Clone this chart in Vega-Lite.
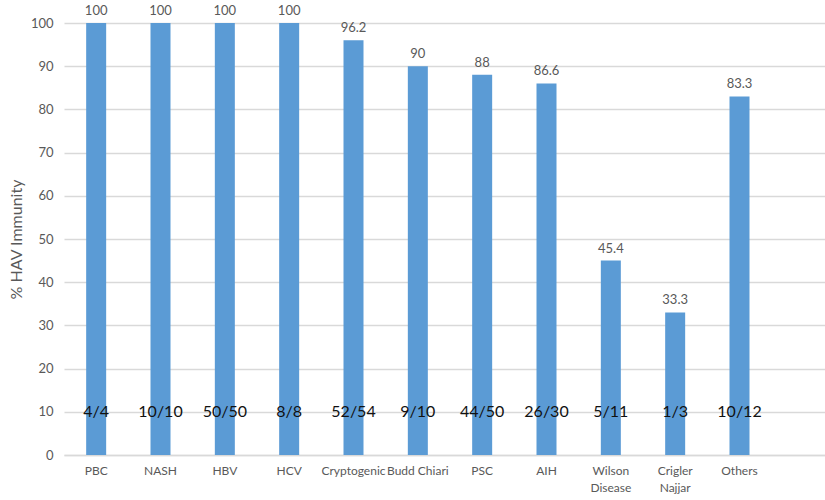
{
  "$schema": "https://vega.github.io/schema/vega-lite/v6.json",
  "autosize": {"type": "none"},
  "padding": {"left": 64, "top": 23, "right": 0, "bottom": 45},
  "width": 772,
  "height": 432,
  "background": "white",
  "config": {
    "view": {"stroke": null},
    "font": "Lato"
  },
  "data": {
    "values": [
      {"disease": "PBC", "value": 100, "label": "100", "fraction": "4/4"},
      {"disease": "NASH", "value": 100, "label": "100", "fraction": "10/10"},
      {"disease": "HBV", "value": 100, "label": "100", "fraction": "50/50"},
      {"disease": "HCV", "value": 100, "label": "100", "fraction": "8/8"},
      {"disease": "Cryptogenic", "value": 96, "label": "96.2", "fraction": "52/54"},
      {"disease": "Budd Chiari", "value": 90, "label": "90", "fraction": "9/10"},
      {"disease": "PSC", "value": 88, "label": "88", "fraction": "44/50"},
      {"disease": "AIH", "value": 86, "label": "86.6", "fraction": "26/30"},
      {"disease": "Wilson Disease", "value": 45, "label": "45.4", "fraction": "5/11"},
      {"disease": "Crigler Najjar", "value": 33, "label": "33.3", "fraction": "1/3"},
      {"disease": "Others", "value": 83, "label": "83.3", "fraction": "10/12"}
    ]
  },
  "encoding": {
    "x": {
      "field": "disease",
      "type": "nominal",
      "sort": null,
      "scale": {
        "domain": ["PBC", "NASH", "HBV", "HCV", "Cryptogenic", "Budd Chiari", "PSC", "AIH", "Wilson Disease", "Crigler Najjar", "Others", " "],
        "paddingInner": 0,
        "paddingOuter": 0
      },
      "axis": {
        "title": null,
        "labelAngle": 0,
        "ticks": false,
        "domain": true,
        "domainColor": "#d9d9d9",
        "domainWidth": 1.5,
        "labelColor": "#595959",
        "labelFontSize": 12,
        "labelPadding": 10,
        "labelLineHeight": 17,
        "labelExpr": "datum.label == 'Wilson Disease' ? ['Wilson', 'Disease'] : datum.label == 'Crigler Najjar' ? ['Crigler', 'Najjar'] : datum.label"
      }
    }
  },
  "layer": [
    {
      "mark": {"type": "bar", "color": "#5B9BD5", "width": 20},
      "encoding": {
        "y": {
          "field": "value",
          "type": "quantitative",
          "scale": {"domain": [0, 100], "nice": false},
          "axis": {
            "title": "% HAV Immunity",
            "titleFont": "Lato",
            "titleFontWeight": "normal",
            "titleFontSize": 16,
            "titleColor": "#595959",
            "titlePadding": 6,
            "values": [0, 10, 20, 30, 40, 50, 60, 70, 80, 90, 100],
            "ticks": false,
            "domain": false,
            "grid": true,
            "gridColor": "#d9d9d9",
            "gridWidth": 1.5,
            "labelColor": "#595959",
            "labelFontSize": 13,
            "labelPadding": 11
          }
        }
      }
    },
    {
      "mark": {"type": "text", "baseline": "bottom", "dy": -5, "fontSize": 13, "color": "#595959"},
      "encoding": {
        "y": {"field": "value", "type": "quantitative"},
        "text": {"field": "label"}
      }
    },
    {
      "mark": {"type": "text", "baseline": "middle", "fontSize": 16, "color": "#111111"},
      "encoding": {
        "y": {"datum": 10, "type": "quantitative"},
        "text": {"field": "fraction"}
      }
    }
  ]
}
